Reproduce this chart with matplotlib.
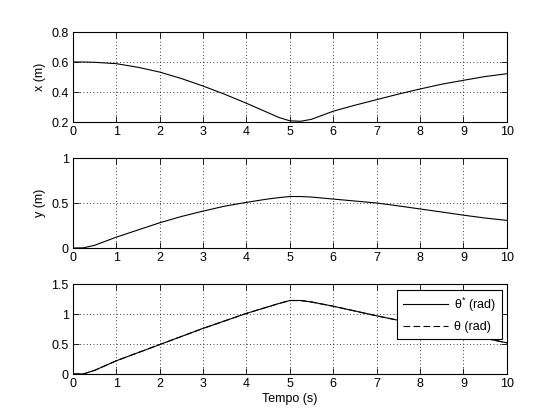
import matplotlib
matplotlib.use("Agg")
import matplotlib.pyplot as plt
import numpy as np

plt.rcParams['font.family'] = ['Liberation Sans', 'DejaVu Sans']
plt.rcParams['font.size'] = 9
plt.rcParams['mathtext.default'] = 'regular'

# data
t = [0, 0.25, 0.5, 1, 1.5, 2, 2.5, 3, 3.5, 4, 4.5, 4.75, 5, 5.25, 5.5, 6, 6.5, 7, 7.5, 8, 8.5, 9, 9.5, 10]
x_pos = [0.6, 0.6, 0.598, 0.589, 0.565, 0.533, 0.49, 0.44, 0.385, 0.325, 0.262, 0.23, 0.208, 0.205, 0.218, 0.272, 0.312, 0.349, 0.386, 0.42, 0.452, 0.478, 0.503, 0.522]
y_pos = [0.0, 0.002, 0.03, 0.12, 0.2, 0.28, 0.35, 0.41, 0.465, 0.507, 0.545, 0.56, 0.572, 0.572, 0.566, 0.544, 0.522, 0.5, 0.468, 0.434, 0.4, 0.365, 0.333, 0.307]
theta_ref = [0.0, 0.002, 0.06, 0.22, 0.355, 0.49, 0.625, 0.76, 0.885, 1.01, 1.12, 1.175, 1.225, 1.225, 1.2, 1.13, 1.05, 0.97, 0.895, 0.82, 0.745, 0.67, 0.595, 0.52]
theta_meas = [0.0, 0.002, 0.06, 0.22, 0.355, 0.49, 0.625, 0.76, 0.885, 1.01, 1.12, 1.175, 1.225, 1.225, 1.2, 1.13, 1.05, 0.97, 0.895, 0.82, 0.745, 0.67, 0.595, 0.52]

fig = plt.figure(figsize=(5.6, 4.2), dpi=100)
ax1 = fig.add_axes([0.130, 0.7095, 0.775, 0.2143])
ax2 = fig.add_axes([0.130, 0.4095, 0.775, 0.2143])
ax3 = fig.add_axes([0.130, 0.1095, 0.775, 0.2143])

ax1.plot(t, x_pos, color='k', lw=0.8)
ax1.set_ylim(0.2, 0.8)
ax1.set_yticks([0.2, 0.4, 0.6, 0.8])
ax1.set_ylabel('x (m)')

ax2.plot(t, y_pos, color='k', lw=0.8)
ax2.set_ylim(0, 1)
ax2.set_yticks([0, 0.5, 1])
ax2.set_yticklabels(['0', '0.5', '1'])
ax2.set_ylabel('y (m)')

ax3.plot(t, theta_ref, color='k', lw=0.8, label='θ$^{*}$ (rad)')
ax3.plot(t, theta_meas, color='k', lw=0.8, ls=(0, (6, 3)), label='θ (rad)')
ax3.set_ylim(0, 1.5)
ax3.set_yticks([0, 0.5, 1, 1.5])
ax3.set_yticklabels(['0', '0.5', '1', '1.5'])
ax3.set_xlabel('Tempo (s)', labelpad=2)
leg = ax3.legend(loc='upper right', bbox_to_anchor=(0.988, 0.933), borderaxespad=0,
                 fancybox=False, edgecolor='k', framealpha=1, handlelength=3.6,
                 borderpad=0.45, labelspacing=0.6, handletextpad=0.5)
leg.get_frame().set_linewidth(0.8)

for ax in (ax1, ax2, ax3):
    ax.set_xlim(0, 10)
    ax.set_xticks(range(0, 11))
    ax.grid(True, color='k', ls=(0, (1, 3)), lw=0.6)
    ax.tick_params(direction='in', length=4, width=0.6, top=True, right=True, pad=3)
    for s in ax.spines.values():
        s.set_linewidth(0.8)

fig.savefig('out.png', dpi=100)
